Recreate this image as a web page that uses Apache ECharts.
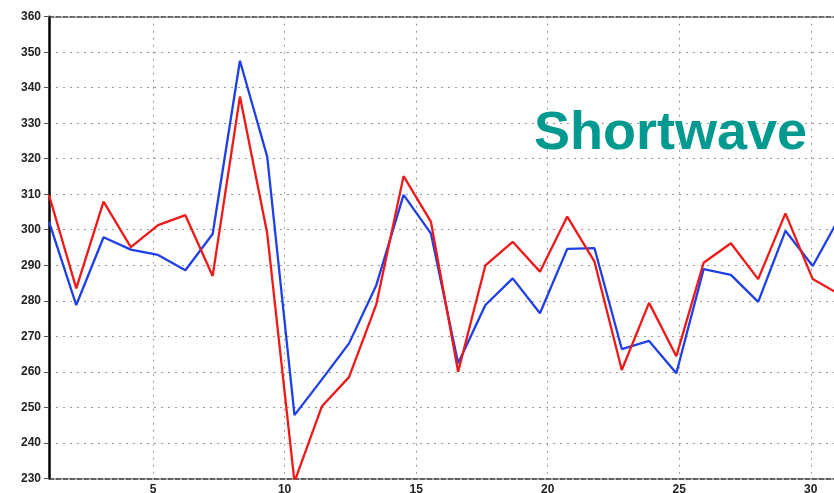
<!DOCTYPE html>
<html>
<head>
<meta charset="utf-8">
<script src="https://cdn.jsdelivr.net/npm/echarts@6/dist/echarts.min.js"></script>
<style>
html,body{margin:0;padding:0;background:#fff;}
#chart{width:834px;height:493px;}
</style>
</head>
<body>
<div id="chart"></div>
<script>
// Data
var days = ['1','2','3','4','5','6','7','8','9','10','11','12','13','14','15','16','17','18','19','20','21','22','23','24','25','26','27','28','29','30'];
var redValues  = [309.8, 283.5, 307.9, 295.1, 301.3, 304.1, 287.0, 337.5, 299.0, 229.0, 250.2, 258.5, 279.0, 315.1, 302.3, 260.0, 290.0, 296.6, 288.2, 303.7, 291.0, 260.5, 279.4, 264.4, 290.7, 296.2, 286.1, 304.6, 286.1, 281.7];
var blueValues = [302.3, 278.8, 297.9, 294.4, 292.9, 288.6, 298.8, 347.6, 320.6, 247.8, 257.8, 268.0, 284.4, 309.8, 299.0, 262.4, 278.8, 286.3, 276.5, 294.6, 294.8, 266.4, 268.7, 259.6, 288.9, 287.3, 279.7, 299.7, 289.8, 303.7];
var xTickLabels = [5, 10, 15, 20, 25, 30];
var yMin = 230, yMax = 360, yStep = 10;
var titleText = 'Shortwave';

var chart = echarts.init(document.getElementById('chart'), null, {renderer: 'canvas'});
var gridColor = '#9a9a9a';
var option = {
  animation: false,
  backgroundColor: '#ffffff',
  grid: {left: 49, width: 791, top: 16.7, bottom: 14.7, containLabel: false, outerBoundsMode: 'none'},
  xAxis: [
    {
      type: 'value',
      position: 'bottom',
      min: 1.046,
      max: 31.11,
      axisLine: {show: true, lineStyle: {color: '#333', width: 1.5, type: [5, 2]}},
      axisTick: {show: false, customValues: xTickLabels},
      axisLabel: {
        customValues: xTickLabels,
        color: '#222', fontSize: 12, fontWeight: 'bold',
        fontFamily: 'Liberation Sans, Arial, sans-serif',
        margin: 5
      },
      splitLine: {show: true, lineStyle: {color: gridColor, width: 1, type: [2, 5]}}
    },
    {
      type: 'category',
      position: 'top',
      data: days,
      boundaryGap: false,
      axisLine: {show: true, lineStyle: {color: '#444', width: 1.5, type: [5, 2]}},
      axisTick: {show: false},
      axisLabel: {show: false},
      splitLine: {show: false}
    }
  ],
  yAxis: {
    type: 'value',
    min: yMin,
    max: yMax,
    interval: yStep,
    axisLine: {show: true, onZero: false, lineStyle: {color: '#000', width: 2.5}},
    axisTick: {show: true, length: 5, lineStyle: {color: '#555'}},
    axisLabel: {
      color: '#222', fontSize: 12, fontWeight: 'bold',
      fontFamily: 'Liberation Sans, Arial, sans-serif', margin: 8
    },
    splitLine: {show: true, lineStyle: {color: gridColor, width: 1, type: [2, 5]}}
  },
  series: [
    {
      name: 'blue', type: 'line', xAxisIndex: 1, data: blueValues,
      showSymbol: false, symbol: 'none', smooth: false,
      lineStyle: {color: '#1f3fe8', width: 2.3}, z: 3
    },
    {
      name: 'red', type: 'line', xAxisIndex: 1, data: redValues,
      showSymbol: false, symbol: 'none', smooth: false,
      lineStyle: {color: '#f01818', width: 2.3}, z: 4
    }
  ],
  graphic: [
    {
      type: 'text', left: 534, top: 107, z: 10,
      style: {
        text: titleText, fill: '#00998f',
        font: 'bold 54px "Liberation Sans", Arial, sans-serif'
      }
    }
  ]
};
chart.setOption(option);
</script>
</body>
</html>
